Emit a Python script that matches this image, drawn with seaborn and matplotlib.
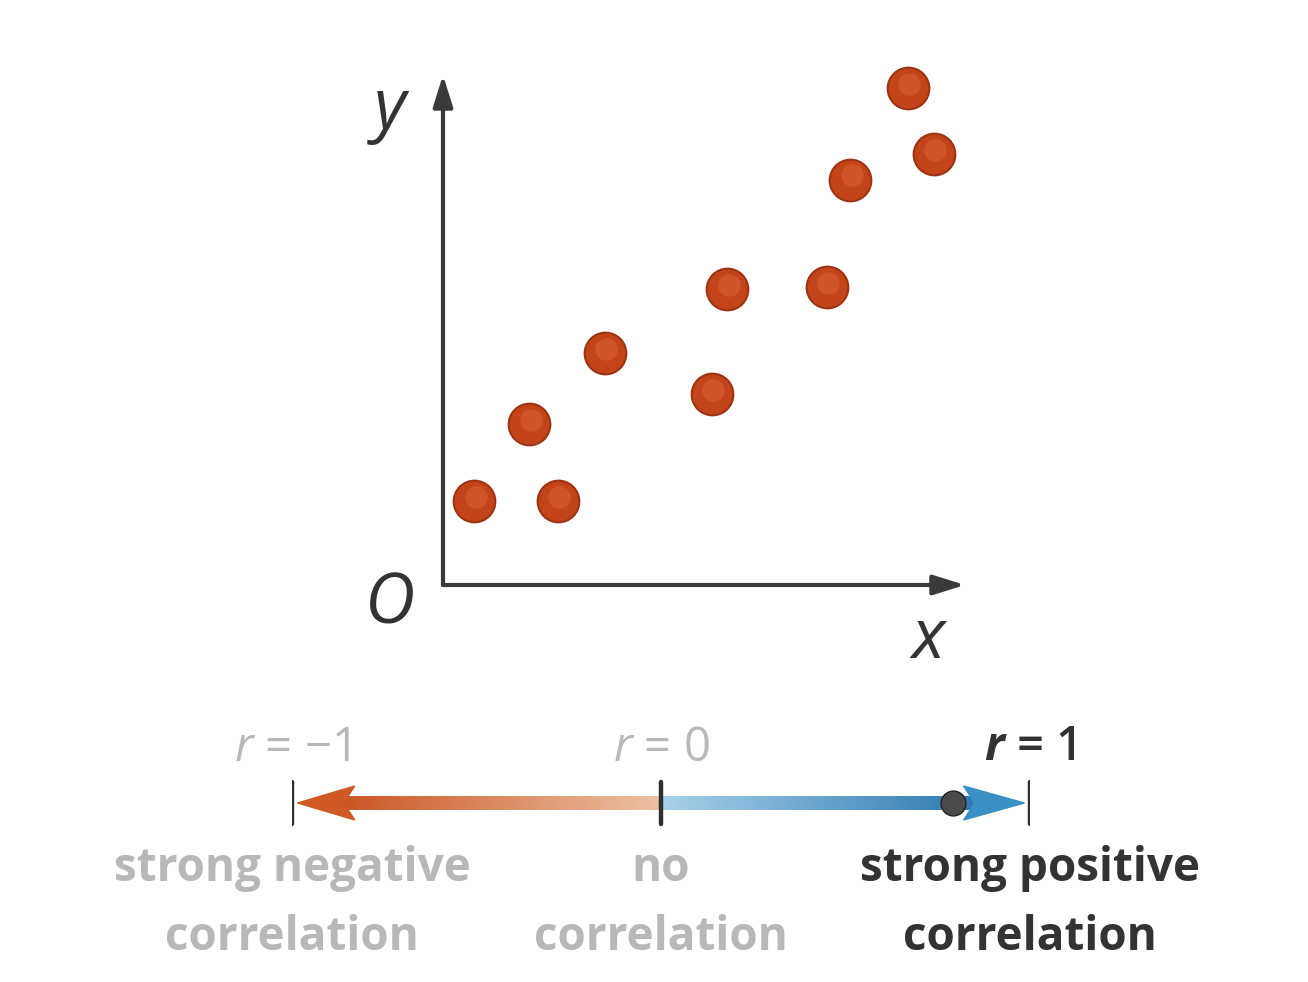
import numpy as np
import matplotlib
matplotlib.use('Agg')
import matplotlib.pyplot as plt
import seaborn as sns
from matplotlib.patches import Polygon

# scatter data
x_vals = [0.6, 2.2, 1.65, 3.1, 5.15, 5.45, 7.35, 7.8, 8.9, 9.4]
y_vals = [1.65, 1.65, 3.15, 4.55, 3.75, 5.8, 5.85, 7.95, 9.75, 8.45]

# correlation scale
r_ticks = [-1, 0, 1]
r_labels = ['$r$ = \u22121', '$r$ = 0', '$\\mathbf{r}$ = 1']
r_desc = ['strong negative\ncorrelation', 'no\ncorrelation', 'strong positive\ncorrelation']
r_active = [False, False, True]
r_value = 0.79

sns.set_theme(style='white')
plt.rcParams['font.family'] = ['Open Sans', 'DejaVu Sans']
plt.rcParams['mathtext.fontset'] = 'custom'
plt.rcParams['mathtext.it'] = 'Open Sans:italic'
plt.rcParams['mathtext.rm'] = 'Open Sans'
plt.rcParams['mathtext.bf'] = 'Open Sans:italic:bold'

W, H = 1308, 982
fig = plt.figure(figsize=(W / 100, H / 100), dpi=100)
fig.patch.set_facecolor('white')

# ---- scatter panel ----
ax = fig.add_axes([443 / W, 1 - 585 / H, 522 / W, 510 / H])
ax.set_xlim(0, 10)
ax.set_ylim(0, 10)
ax.axis('off')

axis_col = '#3a3a3a'
ax.annotate('', xy=(1.0, 0), xytext=(0, 0), xycoords='axes fraction',
            arrowprops=dict(arrowstyle='-|>,head_length=1.6,head_width=0.5',
                            color=axis_col, lw=3, shrinkA=0, shrinkB=0))
ax.annotate('', xy=(0, 1.0), xytext=(0, 0), xycoords='axes fraction',
            arrowprops=dict(arrowstyle='-|>,head_length=1.6,head_width=0.5',
                            color=axis_col, lw=3, shrinkA=0, shrinkB=0))

sns.scatterplot(x=x_vals, y=y_vals, ax=ax, s=900, color='#c4441a',
                edgecolor='#9c3312', linewidth=1.5, zorder=3, legend=False,
                clip_on=False)
# soft highlight to give the balls a bit of shine
ax.scatter(np.array(x_vals) + 0.03, np.array(y_vals) + 0.08, s=260,
           color='#dd6a3a', alpha=0.45, linewidths=0, zorder=4, clip_on=False)

ital = dict(style='italic', color='#333333')
fig.text(390 / W, 1 - 110 / H, 'y', fontsize=50, ha='center', va='center', **ital)
fig.text(390 / W, 1 - 605 / H, 'O', fontsize=50, ha='center', va='center', **ital)
fig.text(928 / W, 1 - 640 / H, 'x', fontsize=50, ha='center', va='center', **ital)

# ---- correlation scale ----
bx = fig.add_axes([292 / W, 0, 738 / W, 282 / H])
bx.set_xlim(-1, 1)
bx.set_ylim(-179, 103)
bx.axis('off')

half = 7
n = 256
t = np.linspace(0, 1, n)[:, None]
c0 = np.array([0.79, 0.33, 0.13])
c1 = np.array([0.93, 0.76, 0.64])
orange = (c0 * (1 - t) + c1 * t)[None, :, :]
b0 = np.array([0.66, 0.82, 0.92])
b1 = np.array([0.17, 0.47, 0.69])
blue = (b0 * (1 - t) + b1 * t)[None, :, :]

bx.imshow(orange, extent=(-0.88, 0, -half, half), aspect='auto', zorder=1)
bx.imshow(blue, extent=(0, 0.86, -half, half), aspect='auto', zorder=1)

# arrow heads
bx.add_patch(Polygon([[-0.985, 0], [-0.83, 17], [-0.86, 0], [-0.83, -17]],
                     closed=True, color='#cf5a24', zorder=2))
bx.add_patch(Polygon([[0.985, 0], [0.82, 17], [0.85, 0], [0.82, -17]],
                     closed=True, color='#3a8fc4', zorder=2))

for tk in r_ticks:
    bx.plot([tk, tk], [-21, 21], color='#2f2f2f', lw=3.2, zorder=3)

bx.scatter([r_value], [0], s=320, color='#4a4a4a', edgecolor='#222222',
           linewidth=1, zorder=4)

for tk, lab, desc, act in zip(r_ticks, r_labels, r_desc, r_active):
    col = '#333333' if act else '#b8b8b8'
    bx.text(tk, 55, lab, fontsize=34, ha='center', va='center', color=col,
            fontweight='semibold' if act else 'normal')
    bx.text(tk, -100, desc, fontsize=33, ha='center', va='center', color=col,
            fontweight='bold', linespacing=1.6)

fig.savefig('out.png', dpi=100, facecolor='white')
